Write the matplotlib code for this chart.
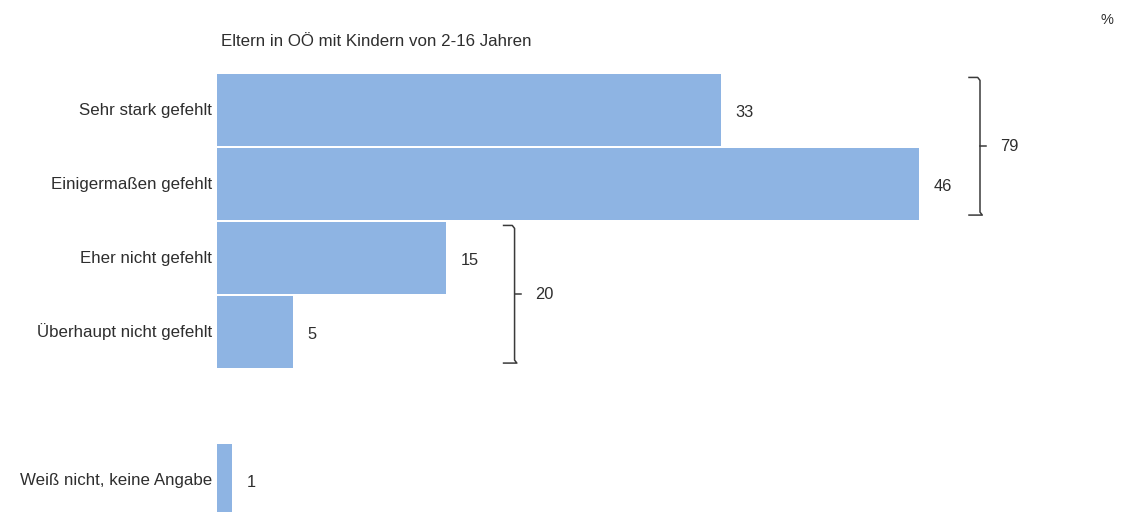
import matplotlib.pyplot as plt
import numpy as np

plt.rcParams['font.family'] = ['Liberation Sans', 'DejaVu Sans']

categories = ['Sehr stark gefehlt', 'Einigermaßen gefehlt', 'Eher nicht gefehlt',
              'Überhaupt nicht gefehlt', 'Weiß nicht, keine Angabe']
values = [33, 46, 15, 5, 1]
positions = [0, 1, 2, 3, 5]
groups = [[0, 1], [2, 3]]
title = 'Eltern in OÖ mit Kindern von 2-16 Jahren'

bar_color = '#8eb4e3'
text_color = '#2e2e2e'
line_color = '#3a3a3a'
fs = 12.2

fig = plt.figure(figsize=(11.23, 5.12), dpi=100)
px = 15.26  # pixels per percent
ax = fig.add_axes([217 / 1123, 0, 1 - 217 / 1123, 1])
ax.set_xlim(0, 906 / px)
ax.set_ylim((512 - 110) / 74, -110 / 74)
ax.axis('off')

ax.barh(positions, values, height=0.975, color=bar_color, edgecolor='none')

for p, v, c in zip(positions, values, categories):
    ax.annotate(str(v), (v, p), xytext=(10.5, -1.5), textcoords='offset points',
                ha='left', va='center', fontsize=11.8, color=text_color)
    ax.annotate(c, (0, p), xytext=(-3.5, 0), textcoords='offset points',
                ha='right', va='center', fontsize=fs, color=text_color,
                annotation_clip=False)

# curly brackets with group sums
bracket_x = [50, 19.5]
for g, xb in zip(groups, bracket_x):
    top = positions[g[0]] - 0.44
    bot = positions[g[-1]] + 0.42
    hook = 11 / px
    mid = (top + bot) / 2
    ax.plot([xb - hook, xb - 0.15, xb, xb, xb + 0.15, xb - hook],
            [top, top, top + 0.04, bot - 0.04, bot, bot],
            color=line_color, lw=1.1, solid_joinstyle='round')
    ax.plot([xb, xb + 6 / px], [mid, mid], color=line_color, lw=1.1)
    ax.annotate(str(sum(values[i] for i in g)), (xb, mid), xytext=(14.5, 0),
                textcoords='offset points', ha='left', va='center',
                fontsize=11.8, color=text_color)

fig.text(221 / 1123, 1 - 42 / 512, title, ha='left', va='center',
         fontsize=fs, color=text_color)
fig.text(1107 / 1123, 1 - 20 / 512, '%', ha='center', va='center',
         fontsize=10.5, color=text_color)

fig.savefig('out.png', dpi=100, facecolor='white')
